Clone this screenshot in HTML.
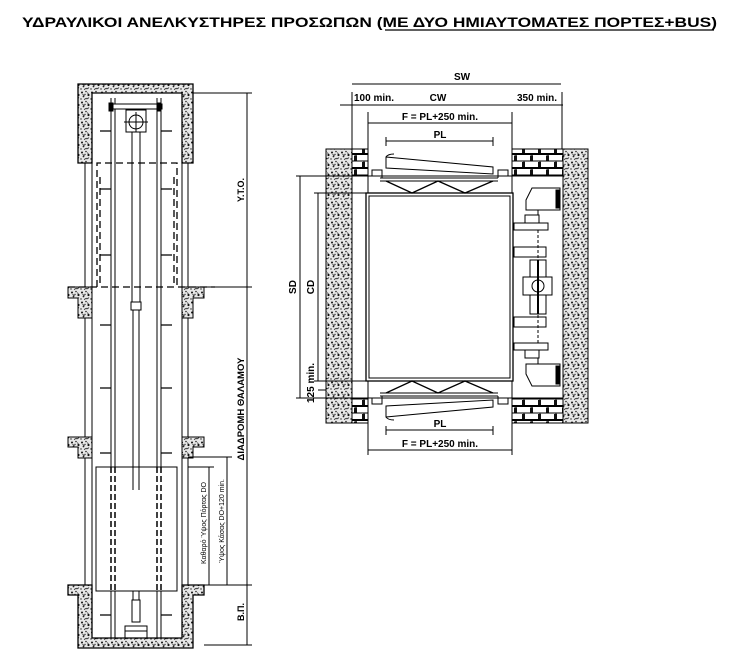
<!DOCTYPE html>
<html><head><meta charset="utf-8"><style>
html,body{margin:0;padding:0;background:#fff;}
svg{display:block;}
text{font-family:"Liberation Sans",sans-serif;fill:#000;}
</style></head><body>
<svg width="736" height="666" viewBox="0 0 736 666" xmlns="http://www.w3.org/2000/svg">
<defs>
<pattern id="cc" width="10" height="10" patternUnits="userSpaceOnUse">
<rect width="10" height="10" fill="#e8e8e8"/>
<circle cx="2" cy="2.5" r="1" fill="#111"/><circle cx="6" cy="1.5" r="0.8" fill="#222"/>
<circle cx="8.5" cy="5" r="1.1" fill="#111"/><circle cx="3.5" cy="6.5" r="0.9" fill="#222"/>
<circle cx="7" cy="8.5" r="0.8" fill="#111"/><circle cx="1" cy="9" r="0.7" fill="#222"/>
<circle cx="5" cy="4.5" r="0.7" fill="#333"/><path d="M2.5 4.5 l2 1 M7.5 2.5 l1 2 M4 9.5 l2 -1 M9 7.5 l-1 1" stroke="#111" stroke-width="0.7"/>
</pattern>
<pattern id="br" width="16" height="14" patternUnits="userSpaceOnUse">
<rect width="16" height="14" fill="#fff"/>
<path d="M0 0.5H16 M0 7H16 M0 13.5H16 M4 0V7 M12 7V14" stroke="#000" stroke-width="1"/>
<rect x="2" y="1.5" width="3" height="5" fill="#111"/><rect x="10" y="8" width="3" height="5" fill="#111"/>
</pattern>
</defs>

<text x="22" y="27" font-size="14" font-weight="bold" textLength="695" lengthAdjust="spacingAndGlyphs">ΥΔΡΑΥΛΙΚΟΙ ΑΝΕΛΚΥΣΤΗΡΕΣ ΠΡΟΣΩΠΩΝ (ΜΕ ΔΥΟ ΗΜΙΑΥΤΟΜΑΤΕΣ ΠΟΡΤΕΣ+BUS)</text>
<line x1="385" y1="30" x2="714" y2="30" stroke="#000" stroke-width="1.2"/>

<g stroke="#000" stroke-width="1" fill="none">
<line x1="85" y1="163" x2="85" y2="640"/><line x1="92" y1="93" x2="92" y2="640"/>
<line x1="182" y1="93" x2="182" y2="640"/><line x1="188" y1="163" x2="188" y2="640"/>
<path d="M78 84H193V163H182V93H92V163H78Z" fill="url(#cc)" stroke-width="1.3"/>
<path d="M68 287H92V318H78V298H68Z" fill="url(#cc)"/>
<path d="M182 287H204V298H193V318H182Z" fill="url(#cc)"/>
<path d="M68 437H92V458H78V447H68Z" fill="url(#cc)"/>
<path d="M182 437H204V447H193V458H182Z" fill="url(#cc)"/>
<path d="M68 585H92V638H182V585H204V595H193V648H78V595H68Z" fill="url(#cc)" stroke-width="1.3"/>
<line x1="111" y1="98" x2="111" y2="638"/><line x1="115" y1="98" x2="115" y2="638"/>
<line x1="157" y1="98" x2="157" y2="638"/><line x1="161" y1="98" x2="161" y2="638"/>
<rect x="110" y="104" width="52" height="5" fill="#fff"/>
<rect x="109" y="103" width="4" height="8" fill="#000"/><rect x="157" y="103" width="4" height="8" fill="#000"/>
<rect x="126" y="110" width="20" height="22"/><circle cx="136" cy="122" r="7"/>
<line x1="124" y1="122" x2="148" y2="122"/><line x1="136" y1="112" x2="136" y2="132"/>
<rect x="132" y="132" width="8" height="170"/>
<rect x="131" y="302" width="10" height="8" fill="#fff"/>
<line x1="133" y1="310" x2="133" y2="600"/><line x1="139" y1="310" x2="139" y2="600"/>
<rect x="132" y="600" width="8" height="22"/>
<rect x="125" y="626" width="22" height="12"/><line x1="125" y1="631" x2="147" y2="631"/>
<g stroke-width="1.2">
<path d="M100 131H111M161 131H172M100 189H111M161 189H172M100 255H111M161 255H172M100 325H111M161 325H172M100 388H111M161 388H172M100 453H111M161 453H172M100 520H111M161 520H172M100 615H111M161 615H172"/>
</g>
<path d="M97 287V163H177V287" stroke-dasharray="7,4" stroke-width="1.3"/>
<line x1="68" y1="287" x2="215" y2="287" stroke-dasharray="7,4" stroke-width="1.3"/>
<line x1="100" y1="177" x2="100" y2="287" stroke-dasharray="7,4" stroke-width="1.3"/>
<line x1="174" y1="177" x2="174" y2="287" stroke-dasharray="7,4" stroke-width="1.3"/>
<rect x="96" y="467" width="81" height="124" fill="#fff"/>
<line x1="111" y1="467" x2="111" y2="591" stroke-dasharray="6,3" stroke-width="1.5"/>
<line x1="115" y1="467" x2="115" y2="591" stroke-dasharray="6,3" stroke-width="1.5"/>
<line x1="157" y1="467" x2="157" y2="591" stroke-dasharray="6,3" stroke-width="1.5"/>
<line x1="161" y1="467" x2="161" y2="591" stroke-dasharray="6,3" stroke-width="1.5"/>
<line x1="133" y1="467" x2="133" y2="490"/><line x1="139" y1="467" x2="139" y2="490"/>
<line x1="247" y1="93" x2="247" y2="645"/>
<path d="M193 93H252M204 287H252M204 585H252M204 645H252M188 457H232M188 467H214"/>
<line x1="209" y1="467" x2="209" y2="585"/>
<line x1="227" y1="457" x2="227" y2="585"/>
</g>
<g font-weight="bold" font-size="9">
<text transform="translate(244,190) rotate(-90)" text-anchor="middle">Υ.Τ.Ο.</text>
<text transform="translate(244,409) rotate(-90)" text-anchor="middle" font-size="9.5">ΔΙΑΔΡΟΜΗ   ΘΑΛΑΜΟΥ</text>
<text transform="translate(244,612) rotate(-90)" text-anchor="middle">Β.Π.</text>
</g>
<g font-size="7">
<text transform="translate(206,523) rotate(-90)" text-anchor="middle">Καθαρό Ύψος Πόρτας DO</text>
<text transform="translate(224,521) rotate(-90)" text-anchor="middle">Ύψος Κάσας DO+120 min.</text>
</g>

<g stroke="#000" stroke-width="1" fill="none">
<rect x="326" y="149" width="26" height="274" fill="url(#cc)"/>
<rect x="563" y="149" width="25" height="274" fill="url(#cc)"/>
<rect x="352" y="149" width="16" height="27" fill="url(#br)"/>
<rect x="352" y="398" width="16" height="25" fill="url(#br)"/>
<rect x="512" y="149" width="51" height="27" fill="url(#br)"/>
<rect x="512" y="398" width="51" height="25" fill="url(#br)"/>
<line x1="368" y1="112" x2="368" y2="193"/><line x1="512" y1="112" x2="512" y2="193"/>
<line x1="368" y1="381" x2="368" y2="455"/><line x1="512" y1="381" x2="512" y2="455"/>
<line x1="352" y1="92" x2="352" y2="149"/><line x1="562" y1="92" x2="562" y2="149"/>
<path d="M352 176H512M380 178H498M380 181H498"/>
<path d="M352 398H512M380 396H498M380 393H498"/>
<path d="M372 176V170H382V178M508 176V170H498V178"/>
<path d="M372 398V404H382V396M508 398V404H498V396"/>
<path d="M386 157L493 167V174L386 168Z" fill="#fff"/>
<path d="M386 157q2 -3 8 -3"/>
<path d="M386 417L493 407V400L386 406Z" fill="#fff"/>
<path d="M386 417q2 3 8 3"/>
<path d="M386 181L412 193L438 181L465 193L493 181" stroke-width="1.3"/>
<path d="M386 393L412 381L438 393L465 381L493 393" stroke-width="1.3"/>
<rect x="366" y="193" width="147" height="188" stroke-width="1.3"/>
<rect x="369" y="196" width="141" height="182"/>
<path d="M526 200L532 188H560V210H526Z" fill="#fff"/>
<path d="M526 374L532 386H560V364H526Z" fill="#fff"/>
<rect x="556" y="190" width="4" height="18" fill="#000"/><rect x="556" y="366" width="4" height="18" fill="#000"/>
<rect x="514" y="223" width="34" height="7" fill="#fff"/>
<rect x="514" y="343" width="34" height="7" fill="#fff"/>
<rect x="525" y="215" width="14" height="8"/><rect x="525" y="350" width="14" height="8"/>
<line x1="538" y1="210" x2="538" y2="215"/><line x1="538" y1="358" x2="538" y2="364"/>
<line x1="538" y1="230" x2="538" y2="343" stroke-dasharray="3,2"/>
<rect x="514" y="247" width="32" height="10"/><rect x="514" y="317" width="32" height="10"/>
<rect x="530" y="260" width="16" height="54" fill="#fff"/>
<rect x="523" y="277" width="29" height="18" fill="#fff"/>
<circle cx="538" cy="286" r="6"/>
<line x1="538" y1="260" x2="538" y2="314" stroke-width="2"/>
<line x1="352" y1="84" x2="561" y2="84"/>
<line x1="340" y1="105" x2="563" y2="105"/>
<line x1="368" y1="123" x2="512" y2="123"/>
<line x1="386" y1="141" x2="493" y2="141"/>
<path d="M386 137V146M493 137V146"/>
<line x1="368" y1="450" x2="512" y2="450"/>
<line x1="386" y1="430" x2="493" y2="430"/>
<path d="M386 426V435M493 426V435"/>
<line x1="300" y1="176" x2="300" y2="398"/>
<line x1="318" y1="193" x2="318" y2="381"/>
<path d="M296 176H352M314 193H366M314 381H366M296 398H352M318 390H326"/>
</g>
<g font-weight="bold" font-size="10" text-anchor="middle">
<text x="462" y="80">SW</text>
<text x="374" y="101">100 min.</text>
<text x="438" y="101">CW</text>
<text x="537" y="101">350 min.</text>
<text x="440" y="120">F = PL+250 min.</text>
<text x="440" y="138">PL</text>
<text x="440" y="427">PL</text>
<text x="440" y="447">F = PL+250 min.</text>
<text transform="translate(296,287) rotate(-90)">SD</text>
<text transform="translate(314,287) rotate(-90)">CD</text>
<text transform="translate(314,383) rotate(-90)">125 min.</text>
</g>
</svg>
</body></html>
